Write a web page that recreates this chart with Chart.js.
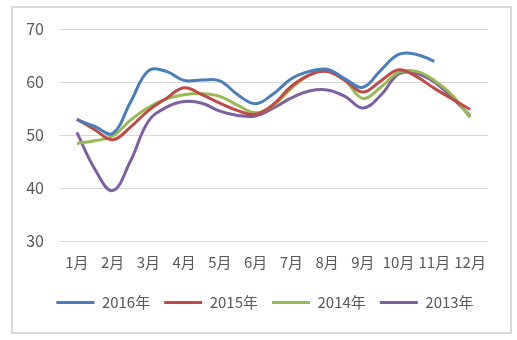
<!DOCTYPE html>
<html>
<head>
<meta charset="utf-8">
<script src="https://cdn.jsdelivr.net/npm/chart.js@4.4.0/dist/chart.umd.min.js"></script>
<style>
  body { margin: 0; background: #fff; }
  .wrap { position: relative; width: 517px; height: 340px; }
  .frame { position: absolute; left: 11px; top: 6px; width: 497px; height: 324px; border: 2px solid #dadada; }
  canvas { position: absolute; left: 0; top: 0; }
</style>
</head>
<body>
<div class="wrap">
  <div class="frame"></div>
  <canvas id="trendChart" width="517" height="340"></canvas>
</div>
<script>
// Month tick labels and half-month sample positions
const months = ['1月', '2月', '3月', '4月', '5月', '6月', '7月', '8月', '9月', '10月', '11月', '12月'];
const halfMonths = [1, 1.5, 2, 2.5, 3, 3.5, 4, 4.5, 5, 5.5, 6, 6.5, 7, 7.5, 8, 8.5, 9, 9.5, 10, 10.5, 11, 11.5, 12];

// Series values
const y2016 = [52.9, 51.6, 50.3, 56.2, 62.1, 62.0, 60.3, 60.4, 60.2, 57.6, 55.9, 57.8, 60.6, 62.0, 62.4, 60.6, 59.0, 62.2, 65.2, 65.2, 63.9];
const y2015 = [53.0, 51.0, 49.1, 51.5, 54.6, 56.9, 58.9, 57.6, 56.0, 54.6, 53.9, 55.8, 59.2, 61.3, 62.0, 60.3, 58.1, 60.2, 62.3, 61.0, 58.8, 56.8, 54.8];
const y2014 = [48.4, 48.9, 49.8, 52.8, 55.2, 56.8, 57.6, 57.8, 57.3, 55.6, 54.2, 55.6, 58.8, 61.3, 62.2, 60.3, 56.9, 59.0, 61.8, 62.0, 60.3, 57.5, 53.3];
const y2013 = [50.5, 43.6, 39.5, 45.1, 52.6, 55.2, 56.3, 56.0, 54.5, 53.7, 53.6, 55.1, 57.0, 58.3, 58.5, 57.3, 55.1, 57.5, 61.5, 61.6, 60.0, 57.0, 53.6];

const seriesNames = ['2016年', '2015年', '2014年', '2013年'];
const seriesColors = ['#4a7ebb', '#be4b48', '#98b954', '#7d60a0'];
const seriesValues = [y2016, y2015, y2014, y2013];

const textColor = '#595959';
const fontFamily = '"Noto Sans CJK JP", "Noto Sans", sans-serif';

// nudge the centred legend to the right, like the original
const legendShift = {
    id: 'legendShift',
    afterLayout: function(chart) {
        if (chart.legend) {
            chart.legend.left += 21;
            chart.legend.right += 21;
        }
    }
};

document.addEventListener('DOMContentLoaded', function() {
    const ctx = document.getElementById('trendChart');

    const datasets = seriesValues.map((vals, i) => ({
        label: seriesNames[i],
        data: vals.map((v, j) => ({ x: halfMonths[j], y: v })),
        borderColor: seriesColors[i],
        backgroundColor: seriesColors[i],
        borderWidth: 3,
        pointRadius: 0,
        tension: 0.4,
        fill: false
    }));

    new Chart(ctx, {
        type: 'line',
        data: { datasets: datasets },
        plugins: [legendShift],
        options: {
            responsive: false,
            animation: false,
            layout: {
                padding: { left: 0, right: 29, top: 29, bottom: 20 }
            },
            plugins: {
                legend: {
                    position: 'bottom',
                    labels: {
                        usePointStyle: true,
                        pointStyle: 'line',
                        pointStyleWidth: 38,
                        padding: 14,
                        color: textColor,
                        font: { family: fontFamily, size: 15 }
                    }
                },
                tooltip: { enabled: false }
            },
            scales: {
                x: {
                    type: 'linear',
                    min: 0.5,
                    max: 12.5,
                    afterBuildTicks: function(scale) {
                        scale.ticks = months.map((m, i) => ({ value: i + 1 }));
                    },
                    afterFit: function(scale) {
                        scale.height = 40;
                    },
                    ticks: {
                        autoSkip: false,
                        maxRotation: 0,
                        padding: 12,
                        color: textColor,
                        font: { family: fontFamily, size: 15 },
                        callback: function(value) {
                            return months[Math.round(value) - 1];
                        }
                    },
                    grid: { display: false, drawTicks: false },
                    border: { display: false }
                },
                y: {
                    min: 30,
                    max: 70,
                    afterFit: function(scale) {
                        scale.width = 59;
                    },
                    ticks: {
                        stepSize: 10,
                        padding: 15,
                        color: textColor,
                        font: { family: fontFamily, size: 16 }
                    },
                    grid: {
                        color: '#d9d9d9',
                        lineWidth: 1,
                        drawTicks: false
                    },
                    border: { display: false }
                }
            }
        }
    });
});
</script>
</body>
</html>
